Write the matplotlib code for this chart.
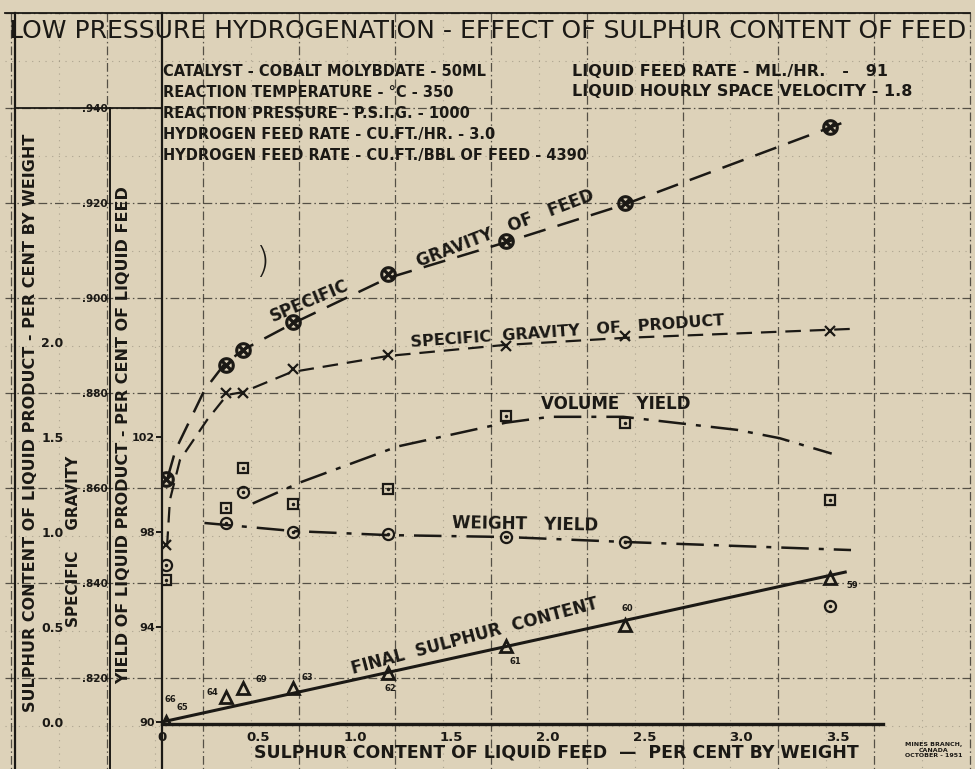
import matplotlib
matplotlib.use("Agg")
import matplotlib.pyplot as plt

# values: sulphur content of liquid feed (wt %)
feed_sulphur = [0.02, 0.33, 0.42, 0.68, 1.17, 1.78, 2.40, 3.46]
sg_feed = [0.862, 0.886, 0.889, 0.895, 0.905, 0.912, 0.920, 0.936]
sg_product = [0.848, 0.880, 0.880, 0.885, 0.888, 0.890, 0.892, 0.893]
volume_yield = [96.0, 99.0, 100.7, 99.2, 99.8, 102.9, 102.6, 99.35]
weight_yield = [96.6, 98.4, 99.7, 98.0, 97.9, 97.8, 97.6, 94.9]
sulphur_product = [0.0, 0.13, 0.18, 0.18, 0.26, 0.40, 0.51, 0.76]
run_numbers = ["65", "64", "69", "63", "62", "61", "60", "59"]

# hand drawn trend curves
feed_curve_x = [0.03, 0.07, 0.145, 0.22, 0.32, 0.42, 0.68, 1.17, 1.77, 2.39, 3.52]
feed_curve_sg = [0.8623, 0.868, 0.8743, 0.8806, 0.8859, 0.8891, 0.8947, 0.9042, 0.9116, 0.9196, 0.9368]
product_curve_x = [0.026, 0.041, 0.093, 0.233, 0.337, 0.42, 0.67, 1.17, 1.77, 2.39, 3.57]
product_curve_sg = [0.8476, 0.8575, 0.8659, 0.8743, 0.8796, 0.8802, 0.8844, 0.8878, 0.8901, 0.8916, 0.8935]
volume_curve_x = [0.47, 0.72, 1.22, 1.78, 2.01, 2.39, 2.98, 3.20, 3.47]
volume_curve_y = [99.2, 100.1, 101.6, 102.6, 102.85, 102.85, 102.3, 101.95, 101.3]
weight_curve_x = [0.22, 0.68, 1.17, 1.78, 2.40, 3.57]
weight_curve_y = [98.38, 98.04, 97.87, 97.79, 97.58, 97.24]
sulphur_line_x = [0.0, 3.54]
sulphur_line_s = [0.0, 0.789]

x_ticks = [0, 0.5, 1.0, 1.5, 2.0, 2.5, 3.0, 3.5]
x_tick_labels = ["0", "0.5", "1.0", "1.5", "2.0", "2.5", "3.0", "3.5"]
yield_ticks = [90, 94, 98, 102]
sg_ticks = [0.82, 0.84, 0.86, 0.88, 0.90, 0.92, 0.94]
sg_tick_labels = [".820", ".840", ".860", ".880", ".900", ".920", ".940"]
sulphur_ticks = [0.0, 0.5, 1.0, 1.5, 2.0]
sulphur_tick_labels = ["0.0", "0.5", "1.0", "1.5", "2.0"]

conditions_left = [
    "CATALYST - COBALT MOLYBDATE - 50ML",
    "REACTION TEMPERATURE - \u00b0C - 350",
    "REACTION PRESSURE - P.S.I.G. - 1000",
    "HYDROGEN FEED RATE - CU.FT./HR. - 3.0",
    "HYDROGEN FEED RATE - CU.FT./BBL OF FEED - 4390",
]
conditions_right = [
    "LIQUID FEED RATE - ML./HR.   -   91",
    "LIQUID HOURLY SPACE VELOCITY - 1.8",
]

PAPER = "#ddd2b9"
INK = "#1b1915"
W, H = 975, 769
# plot frame in pixels
AX_L, AX_R, AX_T, AX_B = 162, 883, 108, 724
PX_X = 193.0      # px per % feed sulphur
PX_YIELD = 23.75  # px per % yield
PX_SG = 4750.0    # px per unit sp.gr.
PX_S = 190.0      # px per % product sulphur

plt.rcParams["font.family"] = ["DejaVu Sans"]
fig = plt.figure(figsize=(W / 100, H / 100), dpi=100, facecolor=PAPER)

# background: graph paper, frame and lettering in pixel coordinates
bg = fig.add_axes([0, 0, 1, 1], zorder=0)
bg.set_xlim(0, W)
bg.set_ylim(H, 0)
bg.axis("off")
bg.set_facecolor(PAPER)

grid_x0, grid_dx = 11.2, 95.9
grid_y0, grid_dy = 13.0, 95.0
for k in range(11):
    gx = grid_x0 + k * grid_dx
    bg.plot([gx, gx], [13, H], color=INK, lw=0.9, alpha=0.7,
            dashes=(7, 2.5, 1.2, 2.5))
    bg.plot([gx + grid_dx / 2] * 2, [13, H], color=INK, lw=0.8, alpha=0.25,
            dashes=(1, 5))
for k in range(9):
    gy = grid_y0 + k * grid_dy
    bg.plot([5, 970], [gy, gy], color=INK, lw=0.9, alpha=0.7,
            dashes=(7, 2.5, 1.2, 2.5))
    bg.plot([5, 970], [gy + grid_dy / 2] * 2, color=INK, lw=0.8, alpha=0.25,
            dashes=(1, 5))

# solid frame lines
bg.plot([5, 970], [13, 13], color=INK, lw=1.3)
bg.plot([15, 15], [13, H], color=INK, lw=1.6)
bg.plot([AX_L, AX_L], [13, H], color=INK, lw=1.6)
bg.plot([110, 110], [AX_B, H], color=INK, lw=1.4)
bg.plot([15, AX_L], [AX_T, AX_T], color=INK, lw=1.3)

bg.text(488, 31, "LOW PRESSURE HYDROGENATION - EFFECT OF SULPHUR CONTENT OF FEED",
        ha="center", va="center", fontsize=18, color=INK)
for i, line in enumerate(conditions_left):
    bg.text(163, 72 + i * 20.8, line, ha="left", va="center", fontsize=10.5,
            fontweight="bold", color=INK)
for i, line in enumerate(conditions_right):
    bg.text(572, 72 + i * 19.5, line, ha="left", va="center", fontsize=11.5,
            fontweight="bold", color=INK)

bg.text(31, 423, "SULPHUR CONTENT OF LIQUID PRODUCT - PER CENT BY WEIGHT",
        rotation=90, ha="center", va="center", fontsize=11.5, fontweight="bold", color=INK)
bg.text(73, 541, "SPECIFIC    GRAVITY", rotation=90, ha="center", va="center",
        fontsize=11, fontweight="bold", color=INK)
bg.text(124, 435, "YIELD OF LIQUID PRODUCT - PER CENT OF LIQUID FEED",
        rotation=90, ha="center", va="center", fontsize=11.5, fontweight="bold", color=INK)
bg.text(556, 752, "SULPHUR CONTENT OF LIQUID FEED  \u2014  PER CENT BY WEIGHT",
        ha="center", va="center", fontsize=12.5, fontweight="bold", color=INK)
bg.text(934, 750, "MINES BRANCH,\nCANADA\nOCTOBER - 1951", ha="center", va="center",
        fontsize=4.5, fontweight="bold", color=INK, linespacing=1.2)
bg.text(262, 262, ")", ha="center", va="center", fontsize=26, color=INK,
        fontweight="light")

# curve names written along the curves
bg.text(309, 301, "SPECIFIC", rotation=23, ha="center", va="center",
        fontsize=12, fontweight="bold", color=INK)
bg.text(505, 229, "GRAVITY   OF   FEED", rotation=21, ha="center", va="center",
        fontsize=12, fontweight="bold", color=INK)
bg.text(567, 332, "SPECIFIC  GRAVITY   OF   PRODUCT", rotation=4, ha="center",
        va="center", fontsize=11.5, fontweight="bold", color=INK)
bg.text(616, 404, "VOLUME   YIELD", rotation=0, ha="center", va="center",
        fontsize=12, fontweight="bold", color=INK)
bg.text(525, 524, "WEIGHT   YIELD", rotation=-1, ha="center", va="center",
        fontsize=12, fontweight="bold", color=INK)
bg.text(475, 636, "FINAL  SULPHUR  CONTENT", rotation=15, ha="center", va="center",
        fontsize=12, fontweight="bold", color=INK)

# data axes: yield (main), specific gravity and product sulphur share the frame
rect = [AX_L / W, (H - AX_B) / H, (AX_R - AX_L) / W, (AX_B - AX_T) / H]
ax = fig.add_axes(rect, zorder=2)
ax.set_facecolor("none")
ax.set_xlim(0, (AX_R - AX_L) / PX_X)
y0 = 90 - 2 / PX_YIELD
ax.set_ylim(y0, y0 + (AX_B - AX_T) / PX_YIELD)

ax_sg = ax.twinx()
ax_sg.set_facecolor("none")
sg0 = 0.82 - 46 / PX_SG
ax_sg.set_ylim(sg0, sg0 + (AX_B - AX_T) / PX_SG + 1e-5)

ax_s = ax.twinx()
ax_s.set_facecolor("none")
s0 = -2 / PX_S
ax_s.set_ylim(s0, s0 + (AX_B - AX_T) / PX_S)

for a in (ax, ax_sg, ax_s):
    for side in ("top", "right", "left", "bottom"):
        a.spines[side].set_visible(False)

ax.spines["bottom"].set_visible(True)
ax.spines["bottom"].set_linewidth(2.4)
ax.spines["bottom"].set_color(INK)
ax.set_xticks(x_ticks)
ax.set_xticklabels(x_tick_labels)
ax.tick_params(axis="x", length=0, pad=5, labelsize=9.5, labelcolor=INK)
ax.set_yticks(yield_ticks)
ax.set_yticklabels([str(v) for v in yield_ticks])
ax.tick_params(axis="y", length=4, width=1.4, color=INK, pad=1, labelsize=8,
               labelcolor=INK)
for lbl in ax.get_xticklabels() + ax.get_yticklabels():
    lbl.set_fontweight("bold")

ax_sg.yaxis.set_ticks_position("left")
ax_sg.spines["left"].set_position(("axes", (110 - AX_L) / (AX_R - AX_L)))
ax_sg.spines["left"].set_visible(True)
ax_sg.spines["left"].set_linewidth(1.4)
ax_sg.spines["left"].set_color(INK)
ax_sg.set_yticks(sg_ticks)
ax_sg.set_yticklabels(sg_tick_labels)
ax_sg.tick_params(axis="y", length=0, pad=1.5, labelsize=7.5, labelcolor=INK)

ax_s.yaxis.set_ticks_position("right")
ax_s.spines["right"].set_position(("axes", (15 - AX_L) / (AX_R - AX_L)))
ax_s.set_yticks(sulphur_ticks)
ax_s.set_yticklabels(sulphur_tick_labels)
ax_s.tick_params(axis="y", length=0, pad=19, labelsize=9, labelcolor=INK)
for lbl in ax_sg.get_yticklabels() + ax_s.get_yticklabels():
    lbl.set_fontweight("bold")

# specific gravity curves
ax_sg.plot(feed_curve_x, feed_curve_sg, color=INK, lw=1.8, dashes=(9, 5))
ax_sg.plot(product_curve_x, product_curve_sg, color=INK, lw=1.6, dashes=(7, 4))
ax_sg.plot(feed_sulphur, sg_feed, linestyle="none", marker=r"$\otimes$",
           markersize=11, color=INK)
ax_sg.plot(feed_sulphur, sg_product, linestyle="none", marker="x",
           markersize=7, markeredgewidth=1.6, color=INK)

# yields
ax.plot(volume_curve_x, volume_curve_y, color=INK, lw=1.8, dashes=(11, 4, 2, 4))
ax.plot(weight_curve_x, weight_curve_y, color=INK, lw=1.8, dashes=(11, 4, 2, 4))
ax.plot(feed_sulphur, volume_yield, linestyle="none", marker="s", markersize=7,
        markerfacecolor="none", markeredgewidth=1.6, color=INK)
ax.plot(feed_sulphur, volume_yield, linestyle="none", marker=".", markersize=3,
        color=INK)
ax.plot(feed_sulphur, weight_yield, linestyle="none", marker="o", markersize=8,
        markerfacecolor="none", markeredgewidth=1.6, color=INK)
ax.plot(feed_sulphur, weight_yield, linestyle="none", marker=".", markersize=3,
        color=INK)

# final sulphur content of product
ax_s.plot(sulphur_line_x, sulphur_line_s, color=INK, lw=2.2)
ax_s.plot(feed_sulphur, sulphur_product, linestyle="none", marker="^",
          markersize=8, markerfacecolor="none", markeredgewidth=2.0, color=INK)

run_offsets = [(17, -15), (-13, -5), (18, -8), (14, -10), (3, 16), (10, 15), (2, -17), (22, 8)]
for xv, sv, run, (dx, dy) in zip(feed_sulphur, sulphur_product, run_numbers, run_offsets):
    ax_s.annotate(run, (xv, sv), xytext=(dx * 0.72, -dy * 0.72),
                  textcoords="offset points", ha="center", va="center",
                  fontsize=6, fontweight="bold", color=INK)
ax_s.annotate("66", (feed_sulphur[0], sulphur_product[0]), xytext=(5 * 0.72, 22 * 0.72),
              textcoords="offset points", ha="center", va="center",
              fontsize=6, fontweight="bold", color=INK)

fig.savefig("out.png", dpi=100, facecolor=PAPER)
